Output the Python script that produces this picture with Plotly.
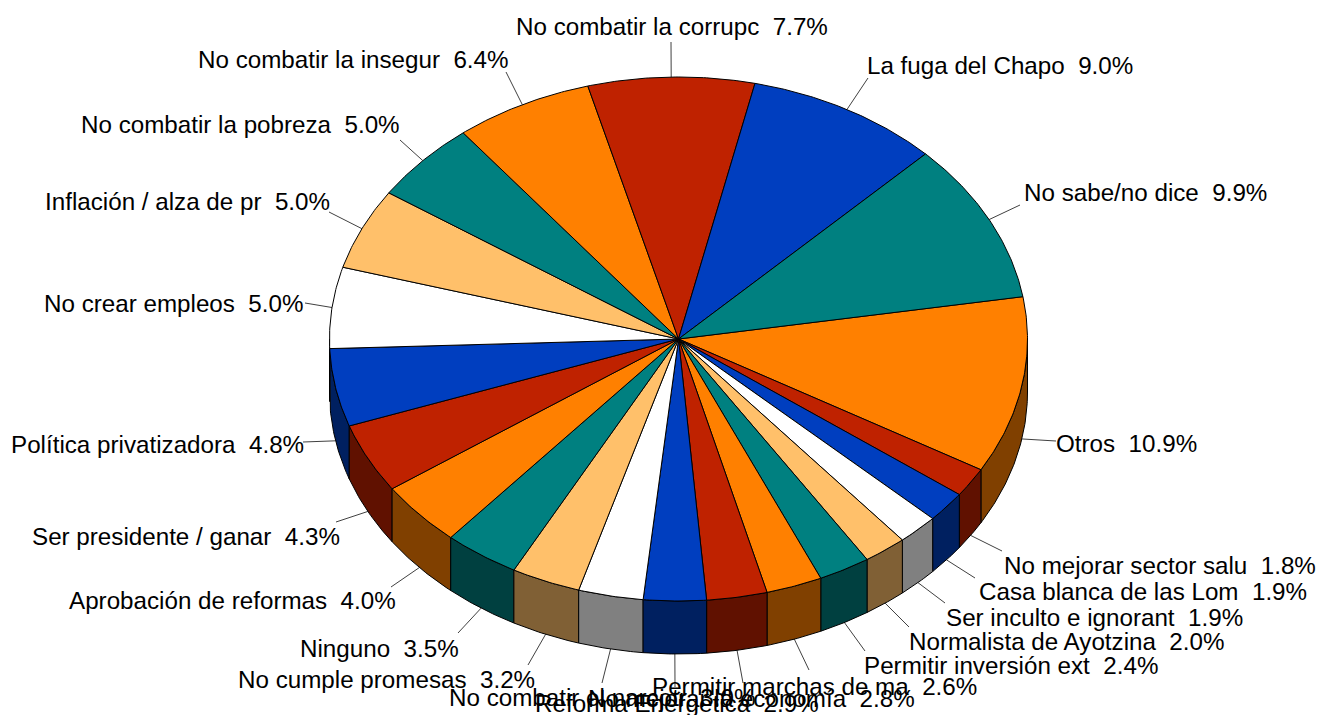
import math
import plotly.graph_objects as go

categories = ["Otros", "No mejorar sector salu", "Casa blanca de las Lom", "Ser inculto e ignorant",
              "Normalista de Ayotzina", "Permitir inversión ext", "Permitir marchas de ma",
              "No mejorar la economía", "Reforma Energética", "No combatir el narcotr",
              "No cumple promesas", "Ninguno", "Aprobación de reformas", "Ser presidente / ganar",
              "Política privatizadora", "No crear empleos", "Inflación / alza de pr",
              "No combatir la pobreza", "No combatir la insegur", "No combatir la corrupc",
              "La fuga del Chapo", "No sabe/no dice"]
values = [10.9, 1.8, 1.9, 1.9, 2.0, 2.4, 2.6, 2.8, 2.9, 3.0, 3.2, 3.5, 4.0, 4.3, 4.8, 5.0, 5.0, 5.0, 6.4, 7.7, 9.0, 9.9]

ORANGE, RED, BLUE, WHITE, PEACH, TEAL = "#FF8000", "#BF2200", "#003EBF", "#FFFFFF", "#FFC06A", "#008080"
top_colors = [ORANGE, RED, BLUE, WHITE, PEACH, TEAL, ORANGE, RED, BLUE, WHITE, PEACH, TEAL,
              ORANGE, RED, BLUE, WHITE, PEACH, TEAL, ORANGE, RED, BLUE, TEAL]
side_of = {ORANGE: "#804000", RED: "#601100", BLUE: "#002060", WHITE: "#808080", PEACH: "#806035", TEAL: "#004040"}

# label layout: centre of text (x, y) and the outer end of its leader line
label_centres = [(1126, 443), (1160, 565), (1143, 591), (1094, 617), (1067, 641), (1011, 665), (814, 686),
                 (751, 698), (677, 703), (602, 697), (386, 679), (379, 648), (232, 600), (186, 536),
                 (157, 444), (173, 303), (187, 201), (240, 124), (353, 59), (672, 26), (1000, 65), (1145, 192)]
leader_ends = [(1056, 441), (1002, 551), (975, 578), (945, 603), (909, 627), (865, 651), (809, 670),
               (743, 683), (675, 687), (602, 683), (528, 665), (458, 633), (391, 587), (336, 522),
               (303, 442), (305, 303), (329, 212), (400, 140), (506, 72), (671, 42), (868, 78), (1020, 205)]

CX, CY, RX, RY, DEPTH = 678.5, 339, 349, 262, 53
START_DEG = 9.3  # above east; slices run clockwise on screen


def rim(a_deg, drop=0.0):
    a = math.radians(a_deg)
    return CX + RX * math.cos(a), CY + RY * math.sin(a) + drop


total = sum(values)
edges = [-START_DEG]
for v in values:
    edges.append(edges[-1] + v / total * 360)

fig = go.Figure()
LINE = dict(color="black", width=1)


def poly(xs, ys, color):
    fig.add_trace(go.Scatter(x=xs, y=ys, mode="lines", fill="toself", fillcolor=color, line=LINE,
                             hoverinfo="skip", showlegend=False))


# side walls (only the front half of the rim shows)
order = sorted(range(len(values)), key=lambda k: abs(90 - (edges[k] + edges[k + 1]) / 2), reverse=True)
for i in order:
    a0, a1 = max(edges[i], 0), min(edges[i + 1], 180)
    if a1 <= a0:
        continue
    n = max(2, int((a1 - a0) * 2))
    angs = [a0 + (a1 - a0) * k / n for k in range(n + 1)]
    up = [rim(a) for a in angs]
    dn = [rim(a, DEPTH) for a in reversed(angs)]
    pts = up + dn + up[:1]
    poly([p[0] for p in pts], [p[1] for p in pts], side_of[top_colors[i]])

# top faces
for i in range(len(values)):
    a0, a1 = edges[i], edges[i + 1]
    n = max(2, int((a1 - a0) * 2))
    arc = [rim(a0 + (a1 - a0) * k / n) for k in range(n + 1)]
    pts = [(CX, CY)] + arc + [(CX, CY)]
    poly([p[0] for p in pts], [p[1] for p in pts], top_colors[i])

# leader lines and labels
for i, (name, v) in enumerate(zip(categories, values)):
    mid = (edges[i] + edges[i + 1]) / 2
    norm = mid % 360
    sx, sy = rim(mid, DEPTH if 0 <= norm <= 180 else 0)
    ex, ey = leader_ends[i]
    fig.add_trace(go.Scatter(x=[sx, ex], y=[sy, ey], mode="lines", line=dict(color="black", width=0.75),
                             hoverinfo="skip", showlegend=False))
    lx, ly = label_centres[i]
    fig.add_annotation(x=lx, y=ly, text=f"{name}\u00a0\u00a0{v:.1f}%", showarrow=False, xanchor="center",
                       yanchor="middle", font=dict(family="Liberation Sans", size=24.2, color="black"))

fig.update_layout(width=1323, height=715, autosize=False, margin=dict(l=0, r=0, t=0, b=0),
                  paper_bgcolor="white", plot_bgcolor="white",
                  xaxis=dict(range=[0, 1323], visible=False, fixedrange=True),
                  yaxis=dict(range=[715, 0], visible=False, fixedrange=True))
fig.write_html("out.html", config={"displayModeBar": False},
               post_script="document.body.style.margin='0';document.documentElement.style.overflow='hidden';")
